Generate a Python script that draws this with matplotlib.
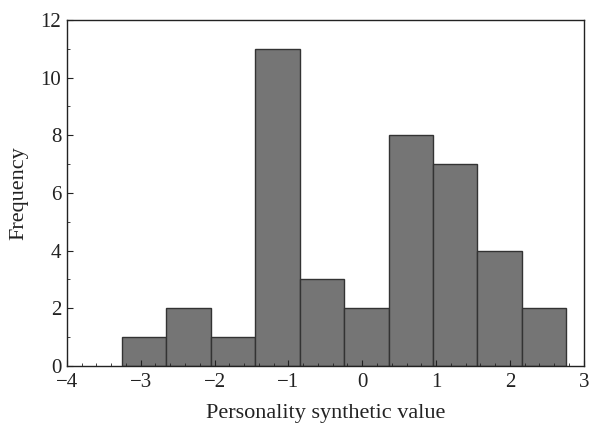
import numpy as np
import matplotlib
matplotlib.use('Agg')
import matplotlib.pyplot as plt
from matplotlib.ticker import MultipleLocator

# histogram bin edges and counts
bin_start = -3.255
bin_width = 0.602
counts = [1, 2, 1, 11, 3, 2, 8, 7, 4, 2]

edges = bin_start + bin_width * np.arange(len(counts) + 1)

plt.rcParams['font.family'] = ['Liberation Serif', 'DejaVu Serif']

fig = plt.figure(figsize=(5.92, 4.23), dpi=100)
ax = fig.add_axes([0.113, 0.135, 0.873, 0.818])

ax.bar(edges[:-1], counts, width=bin_width, align='edge',
       color='#757575', edgecolor='#333333', linewidth=1.0)

ax.set_xlim(-4, 3)
ax.set_ylim(0, 12)
ax.xaxis.set_major_locator(MultipleLocator(1))
ax.xaxis.set_minor_locator(MultipleLocator(0.2))
ax.yaxis.set_major_locator(MultipleLocator(2))
ax.yaxis.set_minor_locator(MultipleLocator(1))
ax.tick_params(which='both', direction='in', top=False, right=False,
               labelsize=15, colors='#222222')
ax.tick_params(which='major', length=4)
ax.tick_params(which='minor', length=2.5)
ax.tick_params(axis='x', pad=5)
ax.tick_params(axis='y', pad=4)
for s in ax.spines.values():
    s.set_color('#222222')
    s.set_linewidth(1.0)

ax.set_xlabel('Personality synthetic value', fontsize=16, color='#222222', labelpad=9)
ax.set_ylabel('Frequency', fontsize=16, color='#222222', labelpad=9)

fig.savefig('out.png', dpi=100)
